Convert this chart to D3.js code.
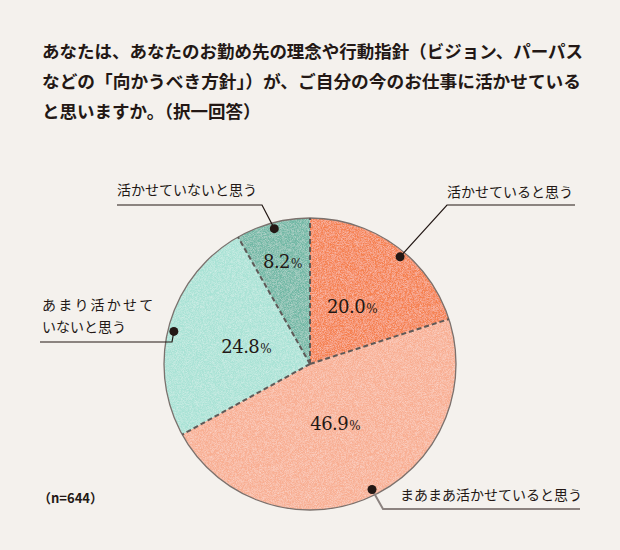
<!DOCTYPE html>
<html><head><meta charset="utf-8">
<script src="https://cdn.jsdelivr.net/npm/d3@7"></script>
<style>
html,body{margin:0;padding:0;background:#f4f1ed;}
svg{display:block;}
</style></head>
<body>
<script>
const categories = ["活かせていると思う","まあまあ活かせていると思う","あまり活かせていないと思う","活かせていないと思う"];
const values = [20.0, 46.9, 24.8, 8.2];
const colors = ["#f5814f","#f8ae92","#a9e2d5","#71b8a5"];
const titleLines = ["あなたは、あなたのお勤め先の理念や行動指針（ビジョン、パーパス","などの「向かうべき方針」）が、ご自分の今のお仕事に活かせている","と思いますか。（択一回答）"];
const sampleNote = "（n=644）";

const W=620,H=550;
const svg=d3.select("body").append("svg").attr("width",W).attr("height",H);
svg.append("rect").attr("width",W).attr("height",H).attr("fill","#f4f1ed");

const defs=svg.append("defs");
const f=defs.append("filter").attr("id","grain").attr("x",0).attr("y",0).attr("width","100%").attr("height","100%");
f.append("feTurbulence").attr("type","fractalNoise").attr("baseFrequency",1.6).attr("numOctaves",2).attr("seed",3).attr("result","n");
f.append("feColorMatrix").attr("in","n").attr("type","matrix")
 .attr("values","0 0 0 0 1  0 0 0 0 1  0 0 0 0 1  0 0 0 -1.6 1.05").attr("result","w");
f.append("feComposite").attr("in","w").attr("in2","SourceGraphic").attr("operator","in").attr("result","wm");
f.append("feComponentTransfer").attr("in","wm").attr("result","wm2")
 .append("feFuncA").attr("type","linear").attr("slope",0.45);
const fm=f.append("feMerge");
fm.append("feMergeNode").attr("in","SourceGraphic");
fm.append("feMergeNode").attr("in","wm2");

// title
const tg=svg.append("g");
const tW=[541,539,null];
titleLines.forEach((t,i)=>{
  const el=tg.append("text").attr("x",42).attr("y",58+i*30)
   .attr("font-family","'Noto Sans CJK JP'").attr("font-weight",700).attr("font-size",17.5)
   .attr("fill","#231815").text(t);
  if(tW[i]) el.attr("textLength",tW[i]).attr("lengthAdjust","spacingAndGlyphs");
});

const cx=310, cy=364, R=146;
const g=svg.append("g").attr("transform",`translate(${cx},${cy})`);
const pie=d3.pie().sort(null).value(d=>d)(values);
const arc=d3.arc().innerRadius(0).outerRadius(R);
const sl=g.append("g").attr("filter","url(#grain)");
sl.selectAll("path").data(pie).join("path").attr("d",arc).attr("fill",(d,i)=>colors[i]);
g.append("circle").attr("r",R).attr("fill","none").attr("stroke","#7b716d").attr("stroke-width",1.3);
// dashed boundaries
g.selectAll("line.b").data(pie).join("line").attr("class","b")
 .attr("x1",0).attr("y1",0)
 .attr("x2",d=>R*Math.sin(d.startAngle)).attr("y2",d=>-R*Math.cos(d.startAngle))
 .attr("stroke","#5f5a58").attr("stroke-width",2).attr("stroke-dasharray","5,3");

// percent labels
const labelR=[72,64,66,107];
const pct=g.selectAll("text.p").data(pie).join("text").attr("class","p")
 .attr("transform",(d,i)=>{const a=(d.startAngle+d.endAngle)/2; return `translate(${labelR[i]*Math.sin(a)},${-labelR[i]*Math.cos(a)+7})`;})
 .attr("text-anchor","middle").attr("font-family","'DejaVu Serif'").attr("fill","#231815");
pct.append("tspan").attr("font-size",18).attr("letter-spacing",-0.5).text(d=>d.data.toFixed(1));
pct.append("tspan").attr("font-size",12).attr("dx",1).text("%");

// leader lines & labels
const dotR=140;
const leaders=[
 {i:0, path:[[447,205],[575,205]], tx:447, ty:[197], lines:["活かせていると思う"], col:"#231815", sw:1.2},
 {i:1, path:[[383,509],[580,509]], tx:400, ty:[500], lines:["まあまあ活かせていると思う"], col:"#8c8380", sw:2},
 {i:2, path:[[172,342],[40,342]], tx:42, ty:[310,332], lines:["あまり活かせて","いないと思う"], col:"#231815", sw:1.2},
 {i:3, path:[[262,205],[117,205]], tx:117, ty:[195], lines:["活かせていないと思う"], col:"#231815", sw:1.2}
];
leaders.forEach(L=>{
  const d=pie[L.i];
  const a=(d.startAngle+d.endAngle)/2 + (L.i===0?0.07:L.i===1?-0.05:L.i===2?-0.04:-0.0);
  const px=cx+dotR*Math.sin(a), py=cy-dotR*Math.cos(a);
  const pts=[[px,py],...L.path];
  svg.append("path").attr("d",d3.line()(pts)).attr("fill","none").attr("stroke",L.col).attr("stroke-width",L.sw);
  svg.append("circle").attr("cx",px).attr("cy",py).attr("r",4.5).attr("fill","#231815");
  L.lines.forEach((t,k)=>{
    svg.append("text").attr("x",L.tx).attr("y",L.ty[k]).attr("font-family","'Noto Sans CJK JP'")
     .attr("font-size",14).attr("fill","#231815")
     .attr("letter-spacing",(L.i===2&&k===0)?2.2:0).text(categories[L.i]===undefined?t:t);
  });
});

svg.append("text").attr("x",38).attr("y",503).attr("font-family","'Noto Sans CJK JP'").attr("font-weight",700)
 .attr("font-size",13).attr("fill","#231815").text(sampleNote);
</script>
</body></html>
